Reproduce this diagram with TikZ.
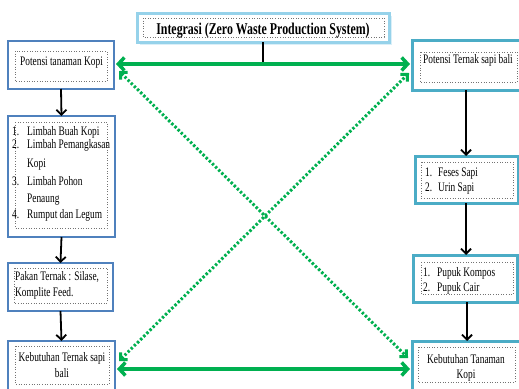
\documentclass[tikz,border=0pt]{standalone}
\usepackage{fontspec}
\setmainfont[FakeStretch=0.72]{Liberation Serif}
\usetikzlibrary{arrows.meta,calc}
\definecolor{lblue}{RGB}{79,129,189}
\definecolor{rblue}{RGB}{75,172,198}
\definecolor{tblue}{RGB}{150,210,234}
\definecolor{grn}{RGB}{0,176,80}
\begin{document}
\begin{tikzpicture}[x=1pt,y=-1pt,
  lbox/.style={draw=lblue,line width=2.8pt,fill=white,inner sep=0pt,outer sep=0pt},
  rbox/.style={draw=rblue,line width=3pt,fill=white,inner sep=0pt,outer sep=0pt},
  tbox/.style={draw=tblue,line width=3pt,fill=white,inner sep=0pt,outer sep=0pt},
  inbox/.style={draw=black!55,line width=0.6pt,dotted},
  txt/.style={inner sep=0pt,font=\fontsize{13}{15}\selectfont},
  garrow/.style={draw=grn,line width=3.5pt,shorten <=2pt,shorten >=2pt,
    {Straight Barb[length=6pt,width=13pt]}-{Straight Barb[length=6pt,width=13pt]}},
  gdot/.style={draw=grn,line width=3pt,dash pattern=on 2.4pt off 2pt,
    {Straight Barb[length=5pt,width=10pt]}-{Straight Barb[length=5pt,width=10pt]}},
  barrow/.style={draw=black,line width=1.8pt,-{Straight Barb[length=5pt,width=10pt]}},
  bline/.style={draw=black,line width=1.8pt}
]
\useasboundingbox (0,0) rectangle (519,388);
\fill[white] (0,0) rectangle (519,388);
\begin{scope}
\clip (0,0) rectangle (519,388);
% title
\fill[tblue!35] (140,16) rectangle (392,45);
\node[tbox,minimum width=252pt,minimum height=29pt] (T) at (263,27.5) {};
\draw[inbox] (143,18) rectangle (384,37);
\node[txt,anchor=base,font=\fontsize{16.5}{18}\selectfont\bfseries] (Tt) at (263,34) {Integrasi (Zero Waste Production System)};
% left boxes
\node[lbox,minimum width=106pt,minimum height=48pt] (L1) at (61,65) {};
\node[lbox,minimum width=107pt,minimum height=121pt] (L2) at (61.5,176.5) {};
\node[lbox,minimum width=105pt,minimum height=48pt] (L3) at (60.5,287) {};
\node[lbox,minimum width=107pt,minimum height=60pt] (L4) at (61.5,371) {};
% right boxes
\node[rbox,minimum width=118pt,minimum height=50pt] (R1) at (471,65) {};
\node[rbox,minimum width=103pt,minimum height=47pt] (R2) at (466.5,179.5) {};
\node[rbox,minimum width=104pt,minimum height=47pt] (R3) at (465,278.5) {};
\node[rbox,minimum width=110pt,minimum height=60pt] (R4) at (467,371) {};
% inner dotted boxes
\draw[inbox] (15,51) rectangle (107,81);
\draw[inbox] (15,122) rectangle (107,228);
\draw[inbox] (14,268) rectangle (107,303);
\draw[inbox] (15,346) rectangle (109,384);
\draw[inbox] (420,52) rectangle (517,82);
\draw[inbox] (421,162) rectangle (513,198);
\draw[inbox] (421,262) rectangle (513,294);
\draw[inbox] (418,347) rectangle (515,382);
% texts
\node[txt,anchor=base west] (t1) at (20,65) {Potensi tanaman Kopi};
\node[txt,anchor=base west] (t2a) at (12,135.5) {\makebox[15pt][l]{1.}Limbah Buah Kopi};
\node[txt,anchor=base west] (t2b) at (12,148.5) {\makebox[15pt][l]{2.}Limbah Pemangkasan};
\node[txt,anchor=base west] (t2c) at (27,167.5) {Kopi};
\node[txt,anchor=base west] (t2d) at (12,185.5) {\makebox[15pt][l]{3.}Limbah Pohon};
\node[txt,anchor=base west] (t2e) at (27,202) {Penaung};
\node[txt,anchor=base west] (t2f) at (12,218.5) {\makebox[15pt][l]{4.}Rumput dan Legum};
\node[txt,anchor=base west] (t3a) at (15,280.5) {Pakan Ternak : Silase,};
\node[txt,anchor=base west] (t3b) at (15,296.5) {Komplite Feed.};
\node[txt,anchor=base] (t4a) at (62,361.5) {Kebutuhan Ternak sapi};
\node[txt,anchor=base] (t4b) at (62,377) {bali};
\node[txt,anchor=base west] (r1) at (423,63) {Potensi Ternak sapi bali};
\node[txt,anchor=base west] (r2a) at (425,176.5) {\makebox[13pt][l]{1.}Feses Sapi};
\node[txt,anchor=base west] (r2b) at (425,191.5) {\makebox[13pt][l]{2.}Urin Sapi};
\node[txt,anchor=base west] (r3a) at (423,276.5) {\makebox[14pt][l]{1.}Pupuk Kompos};
\node[txt,anchor=base west] (r3b) at (423,291.5) {\makebox[14pt][l]{2.}Pupuk Cair};
\node[txt,anchor=base] (r4a) at (466,363.5) {Kebutuhan Tanaman};
\node[txt,anchor=base] (r4b) at (466,378.5) {Kopi};
% coordinates
\coordinate (xr1) at (466,0);
\coordinate (xr2) at (467,0);
\coordinate (yt) at (0,64);
\coordinate (yb) at (0,369);
% black arrows
\draw[barrow] (L1.south) -- (L2.north);
\draw[barrow] (L2.south) -- (L3.north);
\draw[barrow] (L3.south) -- (L4.north);
\draw[barrow] (R1.south -| xr1) -- (R2.north -| xr1);
\draw[barrow] (R2.south -| xr1) -- (R3.north -| xr1);
\draw[barrow] (R3.south -| xr2) -- (R4.north -| xr2);
% green arrows
\draw[bline] (T.south) -- (T.south |- yt);
\draw[garrow] (L1.east |- yt) -- (R1.west |- yt);
\draw[garrow] (L4.east |- yb) -- (R4.west |- yb);
\coordinate (d1a) at ($(L1.east)+(5,6)$);
\coordinate (d1b) at ($(R4.west)+(-4,-13)$);
\coordinate (d2a) at ($(L4.east)+(4,-10)$);
\coordinate (d2b) at ($(R1.west)+(-3,8)$);
\draw[gdot] (d1a) -- (d1b);
\draw[gdot] (d2a) -- (d2b);
\end{scope}
\end{tikzpicture}
\end{document}
